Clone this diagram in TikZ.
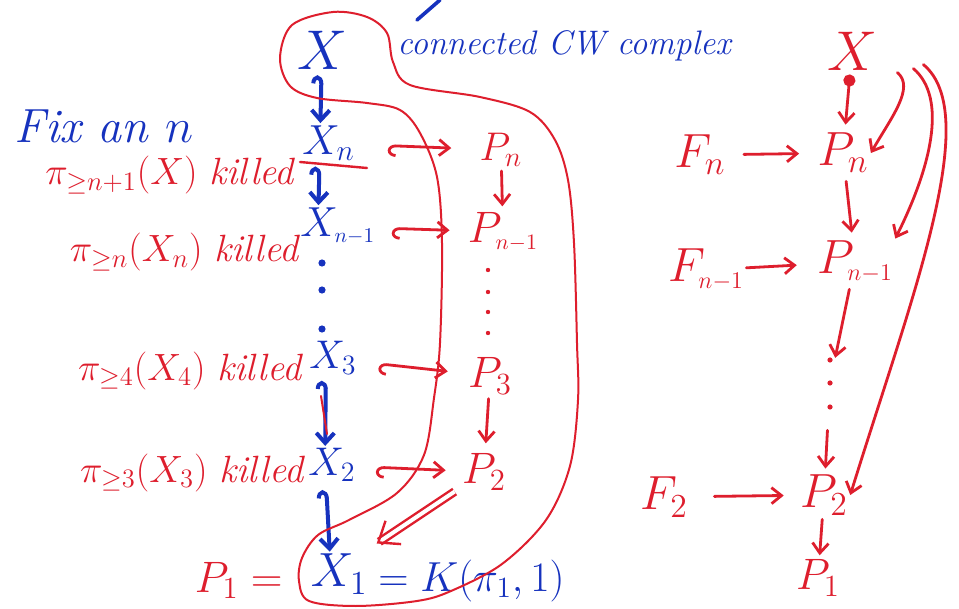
\RequirePackage{fix-cm}
\documentclass[tikz,border=0pt]{standalone}
\usepackage{amsmath}
\usetikzlibrary{arrows.meta}

\definecolor{penblue}{RGB}{22,50,190}
\definecolor{penred}{RGB}{222,30,45}
\newcommand{\lapsub}[1]{\rlap{$\scriptstyle #1$}}
\newcommand{\lapsubb}[1]{\rlap{$\scriptscriptstyle #1$}}

\begin{document}
\begin{tikzpicture}[x=0.5pt, y=-0.5pt,
  fs/.style   = {font=\fontsize{#1}{#1}\selectfont},
  bx/.style   = {text=penblue, inner sep=1pt},
  rx/.style   = {text=penred, inner sep=1pt},
  lbl/.style  = {rx, fs=19, anchor=base east},
  bhook/.style = {draw=penblue, line width=2pt, line cap=round,
                  {Hooks[left,length=4pt,width=10pt]}-{Straight Barb[length=5pt,width=9pt]}},
  rhook/.style = {draw=penred, line width=1.4pt, line cap=round,
                  {Hooks[left,length=4pt,width=11pt]}-{Straight Barb[length=5pt,width=8pt]}},
  rarr/.style  = {draw=penred, line width=1.4pt, line cap=round,
                  -{Straight Barb[length=5pt,width=8pt]}},
  pen/.style   = {draw=penred, line width=1pt},
]
\fill[white] (0,0) rectangle (959,609);
\useasboundingbox (0,0) rectangle (959,609);

% left column: the tower of X's
\node[bx, fs=28] (X)   at (322,50)  {$X$};
\node[bx, fs=21] (Xn)  at (320,143) {$X_{\lapsub{n}}$};
\node[bx, fs=21] (Xn1) at (318,226) {$X_{\lapsubb{n-1}}$};
\node[bx, fs=20] (X3)  at (326,358) {$X_{\lapsub{3}}$};
\node[bx, fs=20] (X2)  at (325,465) {$X_{\lapsub{2}}$};
\node[bx, fs=24] (X1)  at (331,574) {$X_{\lapsub{1}}$};
\node[bx, fs=21, anchor=base west] (kpi) at (376,591) {$=K(\pi_1,1)$};
\node[rx, fs=22, anchor=base east] (lP1) at (285,592) {$P_1 =$};

\draw[bhook, shorten <=2pt] (X) -- (Xn);
\draw[bhook, shorten <=2pt] (Xn) -- (Xn1);
\draw[bhook, shorten <=2pt] (X3) -- (X2);
\draw[bhook, shorten <=3pt] (X2) -- (X1);
\foreach \y in {263,290,329}
  \fill[penblue] (322,\y) circle (1.8pt);

\node[bx, fs=24, anchor=base west] (fix) at (12,143) {\itshape Fix an $n$};
\node[bx, fs=17, anchor=base west] (cw) at (395,55) {\itshape connected CW complex};
\draw[penblue, line width=1.8pt, line cap=round] (417,20) -- (440,0);

% what gets killed
\node[lbl] (k1) at (298,185) {$\pi_{\geq n+1}(X)$ \textit{killed}};
\node[lbl] (k2) at (303,262) {$\pi_{\geq n}(X_n)$ \textit{killed}};
\node[lbl] (k3) at (306,380) {$\pi_{\geq 4}(X_4)$ \textit{killed}};
\node[lbl] (k4) at (308,482) {$\pi_{\geq 3}(X_3)$ \textit{killed}};
\draw[penred, line width=1.2pt, line cap=round] (300,162) -- (367,168);
\draw[penred, line width=1pt, line cap=round] (321,396) -- (327,434);

% middle column: the P's
\node[rx, fs=20] (Pn)  at (501,150) {$P_n$};
\node[rx, fs=22] (Pn1) at (503,232) {$P_{\scriptscriptstyle n-1}$};
\node[rx, fs=22] (P3)  at (490,376) {$P_3$};
\node[rx, fs=22] (P2)  at (484,472) {$P_2$};

\draw[rhook, shorten <=24pt, shorten >=13pt] (Xn) -- (Pn);
\draw[rhook, shorten <=27pt, shorten >=8pt] (Xn1) -- (Pn1);
\draw[rhook, shorten <=17pt, shorten >=9pt] (X3) -- (P3);
\draw[rhook, shorten <=16pt, shorten >=7pt] (X2) -- (P2);
\draw[rarr, shorten <=1pt, shorten >=2pt] (Pn) -- (Pn1);
\draw[rarr, shorten <=1pt, shorten >=4pt] (P3) -- (P2);
\foreach \y in {270,292,312,333}
  \fill[penred] (488,\y) circle (1.1pt);
\draw[draw=penred, line width=1.2pt, double, double distance=2pt,
      shorten <=3pt, shorten >=14pt,
      -{Straight Barb[length=9pt,width=14pt]}] (P2) -- (X1);

% the loop round the X's
\draw[pen] plot[smooth cycle, tension=0.55] coordinates {
  (280,58) (292,25) (333,12) (367,17) (387,33) (393,62) (410,85)
  (480,97) (530,112) (555,140) (568,180) (574,243) (577,343)
  (578,400) (570,466) (546,520) (502,564) (451,591) (417,601)
  (356,606) (309,601) (299,581) (302,558) (318,535) (349,520)
  (397,493) (424,455) (434,398) (440,343) (442,243) (437,177)
  (420,133) (400,110) (367,103) (317,98) (290,86)};

% right: the Postnikov tower
\node[rx, fs=28] (rX)   at (852,51)  {$X$};
\node[rx, fs=24] (rPn)  at (843,153) {$P_n$};
\node[rx, fs=24] (rFn)  at (700,155) {$F_n$};
\node[rx, fs=24] (rPn1) at (855,262) {$P_{\scriptscriptstyle n-1}$};
\node[rx, fs=24] (rFn1) at (706,270) {$F_{\scriptscriptstyle n-1}$};
\node[minimum width=4pt, minimum height=31pt, inner sep=0pt] (rdts) at (830,383) {};
\node[rx, fs=24] (rP2)  at (824,495) {$P_2$};
\node[rx, fs=24] (rF2)  at (664,497) {$F_2$};
\node[rx, fs=22] (rP1)  at (818,578) {$P_1$};
\foreach \dy in {-23,0,24}
  \fill[penred] (rdts.center) ++(0,\dy) circle (1.3pt);

\draw[rarr, {Circle[length=6pt]}-{Straight Barb[length=5pt,width=8pt]},
      shorten <=1pt, shorten >=3pt] (rX) -- (rPn);
\draw[rarr, shorten <=8pt, shorten >=8pt] (rFn) -- (rPn);
\draw[rarr, shorten <=3pt, shorten >=3pt] (rPn) -- (rPn1);
\draw[rarr, shorten >=9pt] (rFn1) -- (rPn1);
\draw[rarr, shorten <=2pt, shorten >=2pt] (rPn1) -- (rdts);
\draw[rarr, shorten <=8pt, shorten >=2pt] (rdts) -- (rP2);
\draw[rarr, shorten <=12pt, shorten >=7pt] (rF2) -- (rP2);
\draw[rarr, shorten <=1pt, shorten >=1pt] (rP2) -- (rP1);

\draw[rarr] ([xshift=9pt]rX.south east) .. controls +(18,15) and +(20,-35) .. (rPn.east);
\draw[rarr] ([xshift=17pt,yshift=2pt]rX.south east) .. controls +(35,30) and +(35,-70) .. (rPn1.north east);
\draw[rarr] ([xshift=22pt,yshift=4pt]rX.south east) .. controls +(60,50) and +(62,-200) .. (rP2.east);

\end{tikzpicture}
\end{document}
